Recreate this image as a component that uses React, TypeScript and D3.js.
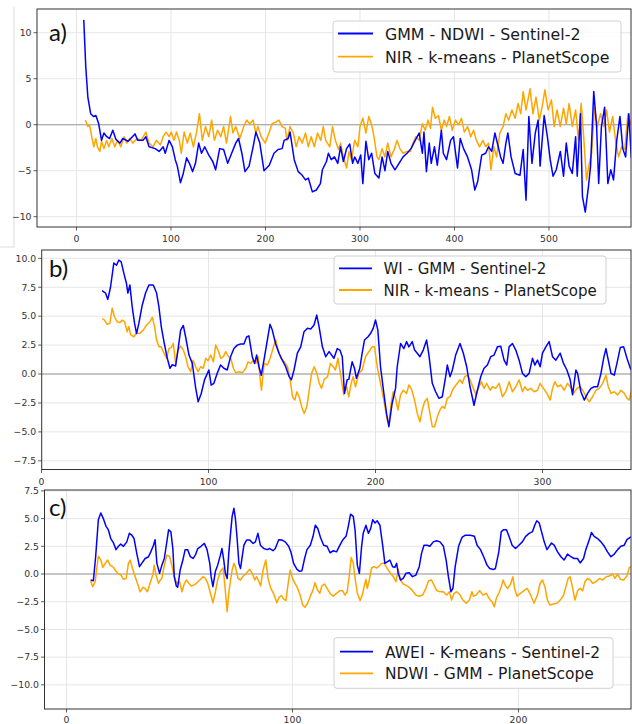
import React from "react";
import * as d3 from "d3";

// ---------- DATA ----------
const aBlue: [number, number][] = [
  [7.7, 11.4], [9.8, 6.3], [12, 3.0], [15, 1.2], [18, 0.9], [20.5, 1.0], [23.5, 0.1], [26.5, -1.7], [29, -0.9], [32, -1.3],
  [35, -1.5], [38.4, -0.6], [41.8, -1.6], [46, -2.0], [49, -1.5], [54.6, -1.8], [61.9, -1.0], [64.8, -1.7], [70.4, -1.7], [73.4, -1.3],
  [76.8, -2.4], [83.2, -2.6], [87.5, -2.9], [91.7, -2.4], [93.9, -3.1], [98, -1.7], [101.5, -2.4], [104.5, -3.8], [106.7, -4.5], [110, -6.3],
  [113, -5.3], [116.5, -3.6], [119.5, -4.2], [122.9, -5.1], [125.9, -4.2], [129.3, -2.0], [132.3, -3.1], [135.7, -2.4], [140, -3.3], [144.2, -4.0],
  [147.2, -4.9], [151.5, -2.6], [155.7, -2.7], [160, -4.2], [164.2, -3.1], [168.5, -2.0], [171.5, -1.5], [175, -3.1], [178.3, -5.1], [182.6, -4.5],
  [186.9, -2.4], [189.8, -0.8], [194, -2.0], [198.4, -5.0], [204, -4.4], [209, -3.1], [213.3, -2.7], [217.6, -2.6], [219.7, -1.7], [224, -1.5],
  [226, -0.8], [230.4, -3.8], [234.6, -5.1], [238.9, -5.5], [242.3, -6.0], [245.3, -5.8], [249.6, -7.3], [253.8, -7.1], [258.1, -6.4], [260.2, -4.9],
  [264.5, -4.0], [266.6, -3.1], [269.6, -3.8], [273, -3.5], [276.5, -4.2], [279.4, -2.4], [282.4, -4.0], [285.8, -2.6], [289.2, -2.1], [292.2, -4.2],
  [294.4, -3.5], [297.8, -4.2], [300.8, -3.3], [303, -6.4], [306.3, -1.8], [309.3, -3.8], [312.3, -3.1], [315.7, -5.3], [320, -5.8], [323.4, -3.5],
  [326.4, -5.0], [329.4, -2.9], [332.8, -4.2], [337, -4.9], [341.3, -4.2], [345.6, -3.5], [349.8, -3.1], [354, -2.6], [358.4, -1.7], [362.6, -0.9],
  [366, -3.1], [367.7, -0.8], [370.3, -5.1], [373.3, -2.0], [375.4, -4.2], [378.8, -2.4], [381.8, -4.4], [386.1, -0.6], [388.2, -3.1], [391.6, -3.8],
  [395.9, -1.7], [398.9, -1.3], [403.2, -4.7], [406.1, -1.5], [409.6, -2.6], [413.8, -3.5], [418.1, -4.9], [421.5, -7.1], [424.5, -6.2], [428.8, -3.3],
  [433, -3.1], [436, -2.4], [439.4, -2.9], [442.8, -0.9], [446.3, -2.4], [448.8, -3.5], [451.4, -4.2], [454.4, -2.0], [456.5, -0.9], [459.9, -3.5],
  [464.2, -5.3], [469.3, -5.5], [472.7, -2.7], [475.7, -8.2], [478.7, 0.9], [482, -4.2], [485.5, -0.9], [488.5, 0.5], [490.6, -4.5], [494.9, 1.0],
  [498.3, -1.3], [501.3, -3.8], [504.3, -5.6], [507.7, -4.9], [512, -2.9], [515.4, -5.6], [518.3, -2.0], [521.3, -4.5], [524.7, -5.3], [528.2, -1.3],
  [529.9, -5.6], [533.3, 1.2], [535.4, -7.8], [538.4, -9.5], [541.8, -6.7], [544, -4.5], [547.4, 3.6], [550.4, -0.2], [552.6, -6.4], [555.5, -0.2],
  [558.9, 1.9], [562.3, -6.4], [565.4, -4.9], [568.3, -6.0], [571.7, -1.7], [575.1, 0.9], [578.1, -2.6], [581.1, -3.5], [584.5, 1.2], [587.1, -3.6],
];

const aOrange: [number, number][] = [
  [9.4, 0.5], [12, -0.2], [13.7, 0], [16.2, -1.3], [18.3, -2.4], [20.5, -1.5], [22.2, -2.4], [24.7, -2.9], [26.5, -1.8], [29, -2.6],
  [32, -1.7], [34.1, -2.4], [37.5, -1.5], [40.5, -2.4], [43.5, -1.7], [46.9, -2.4], [50.3, -1.3], [53.3, -2.0], [56.3, -1.5], [59.7, -2.0],
  [64, -1.5], [68.3, -1.7], [73.4, -0.8], [76.8, -2.0], [81, -2.4], [84.5, -1.7], [88.7, -2.2], [91.7, -1.3], [94.7, -0.8], [98.1, -1.3],
  [100.3, -0.8], [103.2, -1.7], [105.8, -0.8], [108.8, -1.7], [110.9, -3.1], [113.9, -0.8], [117.3, -2.0], [120.3, -0.9], [123.7, -2.4], [127.1, -0.8],
  [130.1, 1.2], [133.1, -1.7], [136.5, -0.2], [140, -1.3], [143, 0.5], [145.9, -1.7], [149.3, -0.6], [152.7, -1.3], [155.7, -0.2], [158.7, -2.0],
  [163, 0.9], [165.5, -0.9], [168.5, -0.2], [172.8, -1.5], [177, -0.2], [180, 0.5], [183.4, 0.1], [186.9, 0.5], [189.8, -0.9], [192, -0.2],
  [195.4, -1.3], [199.7, -2.0], [204, -0.8], [207, 0.1], [211.2, 0.3], [214.2, 0.5], [217.6, -0.2], [221, -0.4], [222.7, -1.7], [226, -0.2],
  [229.5, -0.9], [232.5, -2.4], [235.5, -1.3], [238.9, -2.0], [242.3, -0.9], [245.3, -2.4], [248.3, -1.3], [251.7, -2.4], [255.1, -0.9], [258.5, -1.7],
  [261.1, -0.2], [263.7, -1.7], [268, -2.4], [270.9, -0.2], [273.9, -1.7], [277.3, -2.7], [279.4, -2.0], [282.4, -3.5], [285.8, -4.7], [288.4, -2.9],
  [291, -3.8], [294.4, -1.7], [297.8, -2.4], [300, -0.2], [303, 0.7], [306.3, -0.9], [309.3, 0.9], [312.3, 0], [314.8, -1.3], [318, -3.5],
  [320, -3.8], [323.4, -2.6], [326.4, -3.5], [329.4, -2.0], [332.8, -3.5], [336.2, -2.7], [339.2, -1.7], [342.2, -2.6], [345.6, -3.1], [349.8, -2.9],
  [353.2, -2.9], [356.2, -2.0], [359.2, -1.3], [362.6, -1.7], [366, 0.1], [369, -0.6], [372, 0.5], [374.6, -0.4], [376.7, 1.9], [379.7, 0.7],
  [383.1, 1.0], [386.1, -0.6], [389.1, 0.5], [391.6, -0.2], [394.6, 0.9], [397.6, -0.6], [401, 0.5], [404.4, 0], [407.4, 0.7], [410.4, -0.8],
  [413.8, -0.2], [417.2, -1.3], [420.2, -0.6], [423.2, -1.7], [426.6, -2.4], [430, -1.7], [433, -2.4], [436, -2.0], [438.6, -4.9], [441.6, -2.4],
  [444.5, -3.5], [448, -0.9], [451.4, -0.2], [454.4, 1.2], [457.3, 0.5], [460.8, 1.6], [464.2, 0.7], [467.2, 2.3], [470.1, 1.2], [472.7, 3.6],
  [475.7, 1.6], [480, 3.9], [483, 1.2], [486.3, 3.0], [489.8, 0.5], [492.7, 1.9], [495.7, 3.8], [499.1, 1.6], [502.6, 2.7], [505.5, -0.2],
  [508.5, 1.6], [512, -0.2], [515.4, 1.8], [518.3, 0.1], [521.3, 2.3], [524.7, -0.2], [528.2, 1.6], [531.2, -1.7], [534.1, 2.3], [536.7, -1.3],
  [539.7, -6.0], [542.7, -4.2], [545.2, -3.1], [548.2, 1.9], [551.2, -0.2], [554.6, 1.2], [558, -0.2], [561, 1.6], [564, -0.8], [567.4, 0.9],
  [570.8, -2.0], [573.8, -3.5], [576.8, -2.4], [580.2, -2.7], [583.6, 1.2], [586.6, 0.1],
];

const bBlue: [number, number][] = [
  [36.3, 7.2], [38.3, 7.0], [39.7, 6.45], [41.3, 7.5], [43.3, 9.6], [44.9, 9.4], [46.3, 9.85], [47.7, 9.7], [49.3, 8.7], [50.9, 7.8],
  [51.7, 7.0], [52.9, 7.7], [54.3, 5.8], [55.7, 4.4], [56.9, 3.5], [58.3, 4.4], [60.3, 5.95], [62.3, 7.0], [64.3, 7.7], [66.9, 7.7],
  [68.9, 7.0], [70.3, 5.8], [71.7, 4.1], [73.3, 2.8], [75.3, 1.36], [76.9, 0.5], [78.3, 0.8], [80.3, 0.7], [81.7, 2.07], [83.3, 3.8],
  [84.9, 4.2], [86.3, 3.2], [88.3, 1.64], [90.3, 0.92], [92.2, -1.1], [93.8, -2.4], [95.6, -1.7], [97.6, -0.5], [100.2, 0.35], [101.6, -0.95],
  [103.2, -0.8], [105.2, 0.06], [107.2, 0.78], [109.2, 0.5], [111.2, 0.35], [113.2, 1.5], [115.2, 2.2], [117.2, 2.5], [119.2, 2.6], [121.2, 2.6],
  [122.8, 3.2], [124.2, 3.3], [126.2, 1.5], [127.6, 0.92], [128.8, 1.64], [130.2, 0.63], [131.6, -0.1], [133.2, 1.2], [135.2, 2.9], [136.8, 4.3],
  [138.2, 3.8], [140.2, 2.6], [142.2, 1.8], [144.2, 1.2], [146.2, 0.63], [148.2, -0.2], [149.6, -0.5], [151.2, 0.35], [153.2, 1.8], [155.2, 2.35],
  [157.2, 3.66], [159.2, 3.95], [161.2, 3.9], [163.2, 4.24], [164.8, 5.1], [166.2, 4.1], [168.2, 2.35], [170.2, 1.5], [172.2, 1.94], [175.1, 1.36],
  [177.1, 2.2], [178.7, 2.07], [180.1, 1.5], [181.4, -1.67], [183, -0.5], [184, -0.46], [186, 1.06], [187.4, 0.5], [188.6, -0.37], [190.6, 0.5],
  [192, 1.8], [193.4, 2.94], [195.4, 3.2], [197, 3.5], [198.6, 3.95], [200, 4.67], [201.4, 3.8], [203, 0.63], [205, -1.67], [206.6, -3.4],
  [208, -4.55], [210, -2.5], [212, -1.24], [213, 0.63], [215, 2.64], [217, 2.2], [218.6, 2.8], [220, 2.35], [222, 2.8], [223.4, 2.07],
  [225, 1.8], [226.6, 1.5], [228.6, 2.07], [230.6, 2.94], [232, 1.64], [234, -0.8], [236, -1.53], [238, -2.1], [240, -1.96], [242, -0.23],
  [243, 0.78], [244.6, -0.23], [246, 0.35], [248, 1.64], [250.6, 2.64], [252.6, 1.8], [254.6, 0.63], [256.6, -1.1], [259, -2.7], [261, -1.4],
  [263, -0.23], [265, 0.5], [267, 0.78], [269, 1.5], [271, 1.64], [273, 2.35], [275, 2.4], [277, 1.2], [278.6, 0.78], [280, 2.35],
  [282, 2.64], [284, 2.07], [286, 1.2], [288, 0.06], [290, -0.23], [292, 0.06], [294, 1.36], [295.4, 0.78], [297, 1.2], [298.6, 0.63],
  [300, 1.8], [302, 2.35], [304, 2.8], [306, 1.5], [308, 1.2], [310.6, 1.8], [312.6, 0.92], [314.6, 0.35], [316.6, -0.5], [318, -1.8],
  [320, 0.35], [321, 0.06], [323, -1.53], [325, -2.25], [327, -1.67], [329, -1.24], [331, -1.1], [333, -1.1], [335, 0.06], [336.6, 1.36],
  [338, 2.2], [339.4, 1.2], [341, 0.06], [343, -0.1], [345, 1.2], [346.6, 2.3], [348.6, 2.35], [350.6, 1.36], [352.6, 0.5], [354, 0.2],
];

const bOrange: [number, number][] = [
  [36.3, 4.8], [37.7, 4.66], [39.3, 4.3], [40.9, 4.38], [42.3, 5.68], [43.7, 4.95], [45.3, 4.52], [46.9, 4.44], [48.3, 4.66], [49.7, 4.52],
  [51.3, 3.66], [52.3, 4.1], [53.3, 3.4], [55.3, 3.22], [56.9, 3.57], [58.9, 3.5], [60.9, 3.8], [62.9, 4.24], [64.9, 4.52], [66.3, 4.9],
  [67.7, 4.1], [68.9, 2.94], [70.3, 2.35], [71.7, 2.35], [73.3, 1.8], [74.9, 1.36], [76.3, 2.2], [77.7, 2.3], [78.9, 2.64], [80.3, 0.92],
  [81.7, 2.07], [83.3, 2.4], [84.9, 2.07], [86.3, 1.5], [87.7, 0.63], [89.3, 0.2], [90.7, 1.2], [92.3, 0.63], [93.7, 0.2], [95.3, 0.63],
  [96.9, 0.5], [98.3, 1.36], [99.7, 1.15], [101.3, 1.64], [102.9, 1.06], [104.3, 2.5], [105.7, 2.07], [107.3, 1.36], [108.9, 1.5], [110.3, 1.94],
  [111.7, 1.56], [113.3, 1.36], [114.9, 0.5], [116.3, 0.12], [118.3, 0.2], [120.3, 0.12], [122.3, 0.5], [123.7, 1.06], [125.3, 0.92], [126.9, 1.2],
  [128.3, 0.92], [129.7, 1.5], [130.9, -0.4], [131.7, -1.4], [133.3, 0.92], [135.3, 0.78], [136.9, 1.36], [138.9, 2.35], [140.3, 2.94], [141.7, 2.07],
  [143.3, 1.36], [145.3, 1.06], [147.3, 0.63], [148.9, -0.5], [150.3, -1.96], [151.7, -2.25], [152.9, -1.53], [154.3, -1.96], [155.7, -2.8], [157.3, -3.4],
  [158.9, -2.8], [160.3, -1.4], [161.7, 0.06], [163.3, 0.63], [164.9, 0.06], [166.3, -0.8], [167.7, -1.24], [169.3, -0.46], [171.3, -0.23], [173, 0.92],
  [174.7, 0.63], [176, 0.35], [177.5, 1.36], [179, 0.06], [181, -1.8], [182.7, -1.1], [184, -1.96], [185.4, -0.8], [186.6, -0.23], [188, -1.1],
  [190, 0.06], [192, 0.35], [194, 1.5], [196, 1.93], [198, 2.35], [199.4, 2.35], [201, 0.63], [203, -0.8], [205, -2.25], [207, -3.98],
  [208, -4.27], [209.4, -2.5], [210.6, -1.53], [212, -2.1], [213.4, -3.1], [215, -1.8], [216.6, -1.4], [218.6, -1.67], [220, -0.95], [221.4, -1.24],
  [223.4, -2.25], [225, -3.4], [226.6, -4.13], [228, -3.1], [229.4, -2.4], [231, -2.1], [232.6, -3.4], [234, -4.55], [235.4, -4.55], [237, -3.7],
  [238.6, -3.1], [240, -2.8], [241.4, -2.96], [243, -2.1], [244.6, -1.96], [246, -1.4], [247.4, -1.1], [249, -0.8], [250.6, -0.5], [252, -0.8],
  [253.4, -0.23], [255, -0.1], [256.6, -0.5], [258.6, -1.24], [260.2, -1.8], [262, -1.1], [263.4, -0.66], [265, -1.24], [266.6, -0.8], [268.6, -1.4],
  [270, -1.1], [272, -1.24], [274, -0.8], [276, -1.96], [278, -1.53], [280, -0.66], [282, -1.53], [284, -1.1], [286, -0.5], [288, -1.53],
  [289.4, -1.1], [291, -1.4], [293, -1.24], [295, -1.53], [297, -1.4], [298.6, -0.8], [300.6, -1.24], [302.6, -1.67], [304.6, -2.25], [306, -1.24],
  [307.4, -0.66], [309, -1.1], [311, -0.95], [313, -1.4], [315, -0.8], [316.6, -1.1], [318.6, -1.67], [320.6, -1.24], [322.6, -1.1], [324.6, -1.53],
  [326.6, -2.1], [328, -2.4], [330, -1.96], [332, -1.4], [334, -1.24], [336, -0.8], [338, -0.1], [339.4, -1.1], [341, -1.67], [343, -1.53],
  [345, -1.8], [347, -1.4], [349, -1.67], [350.6, -2.1], [352, -2.25], [354, -0.95],
];

const cBlue: [number, number][] = [
  [10.7, -0.54], [11.9, -0.6], [12.9, 1.56], [14.1, 4.9], [15.2, 5.5], [16.3, 5.0], [17.5, 4.3], [18.5, 4.0], [19.6, 3.2], [20.8, 2.8],
  [21.9, 2.2], [23, 2.5], [24, 2.7], [25.2, 2.5], [26.7, 2.9], [27.8, 3.67], [28.9, 3.5], [29.9, 3.2], [31.1, 1.86], [32.3, 0.66],
  [33.3, 0.96], [34.8, 1.4], [36.3, 1.56], [37.3, 2.0], [38.5, 2.6], [39.2, 3.1], [40, 0.96], [41.2, 0.06], [42.2, 0.8], [43.3, 1.4],
  [44.4, 2.9], [45.2, 4.0], [46.2, 3.8], [47.1, 2.2], [47.7, -0.24], [48.6, -1.08], [49.2, -1.2], [50.3, 0.36], [51.5, 1.26], [52.5, 2.2],
  [53.6, 2.2], [54.8, 1.56], [56, 1.4], [57, 1.7], [58.1, 2.3], [59.5, 2.5], [61, 2.76], [62.2, 2.2], [63.4, 0.96], [64, -0.24],
  [64.8, -1.14], [65.9, 0.24], [66.9, 0.8], [68.1, 1.7], [68.8, 2.3], [69.6, 1.26], [70.3, 0.06], [71.1, -0.4], [71.8, 1.86], [72.6, 3.67],
  [73.3, 5.2], [74.1, 5.93], [74.8, 4.9], [75.5, 3.2], [76.3, 0.96], [77, 0.5], [78.5, 2.6], [79.7, 3.06], [81.1, 3.06], [82.6, 2.76],
  [83.6, 2.9], [84.7, 3.67], [85.8, 2.6], [87.3, 2.3], [88.8, 2.2], [89.9, 2.3], [91.4, 2.1], [92.4, 2.3], [93.9, 3.1], [95.4, 3.06],
  [96.8, 2.9], [98.3, 2.5], [99.3, 2.0], [100.5, 0.96], [102, 0.42], [103.2, 0.24], [104.2, 0.3], [105.2, 1.26], [106.4, 2.2], [107.9, 2.6],
  [109.1, 3.4], [110.1, 4.4], [111.2, 4.1], [112.4, 3.3], [113.8, 2.6], [115.3, 2.5], [116.6, 1.92], [118.1, 2.1], [119.5, 2.0], [120.7, 2.5],
  [122.2, 3.06], [123.7, 3.4], [124.7, 4.3], [125.7, 5.4], [126.9, 5.2], [127.7, 3.97], [128.7, 0.8], [129.6, 0.06], [130.6, 2.5], [131.3, 3.67],
  [132.5, 4.4], [133.6, 3.67], [134.6, 4.1], [135.5, 4.9], [136.5, 4.6], [137.5, 4.8], [138.7, 4.4], [139.9, 2.6], [140.9, 0.96], [141.9, 1.1],
  [143.1, 1.26], [144.3, 0.66], [145.3, 0.6], [146.1, 0.96], [146.8, 0.06], [147.8, -0.54], [149, -0.4], [150.2, 0.06], [151.7, 0.12], [153.1, -0.24],
  [154.6, -0.1], [156.1, 0.66], [157.1, 1.86], [158.2, 2.6], [159.6, 2.6], [160.8, 2.5], [162.3, 2.9], [163.8, 3.0], [165.3, 2.9], [166.8, 2.5],
  [168, 1.26], [169, -0.24], [170.1, -1.6], [171, -1.3], [172, 0.66], [173.5, 2.5], [175, 3.3], [176.5, 3.5], [178.7, 3.5], [180.5, 3.4],
  [181.7, 2.6], [183.2, 2.2], [184.6, 1.56], [186.1, 0.8], [187.3, 0.5], [188.8, 0.4], [189.8, 0.5], [191.3, 2.0], [192.4, 3.82], [193.5, 4.0],
  [194.7, 4.0], [195.8, 3.4], [197.2, 2.6], [198.7, 2.3], [200.2, 2.6], [201.7, 2.9], [203.2, 3.4], [204.7, 3.67], [206.2, 3.82], [207.2, 4.4],
  [208.1, 4.8], [209.2, 4.6], [210.2, 3.82], [211.4, 2.9], [212.6, 2.2], [213.6, 2.5], [214.6, 2.8], [215.8, 2.6], [217.3, 2.0], [218.8, 1.56],
  [220.2, 1.26], [221.7, 1.8], [223.2, 1.56], [224.6, 1.4], [226.1, 1.4], [227.3, 1.0], [228.8, 1.4], [229.8, 2.2], [231.3, 3.06], [232.3, 3.75],
  [233.5, 3.4], [235, 3.2], [236.5, 2.9], [238, 2.5], [239.4, 2.0], [240.9, 1.56], [242.4, 1.8], [243.9, 2.2], [245.3, 2.5], [246.8, 2.6],
  [248, 3.1], [249.4, 3.3], [250.5, 3.4],
];

const cOrange: [number, number][] = [
  [10.7, -0.6], [11.6, -1.14], [12.7, -0.7], [13.4, 0.5], [14.1, 1.6], [15.2, 1.26], [16.1, 0.6], [17.1, 0.96], [18.2, 1.26], [19.3, 0.8],
  [20.8, 0.6], [21.9, 0.24], [23, 0], [24, -0.06], [25.2, -0.48], [26.4, -0.4], [27.4, 0.96], [28.2, 1.26], [29.3, 0.42], [30.4, -0.24],
  [31.4, -0.84], [32.6, -1.6], [33.8, -1.2], [34.8, -1.3], [35.8, -1.6], [37, -0.84], [38.2, -0.06], [38.8, 0.8], [39.6, -0.06], [40.7, -0.84],
  [41.5, -0.54], [42.2, -0.4], [43.3, 0.8], [44.4, 1.7], [45.6, 1.6], [46.6, 0.8], [47.7, -0.24], [48.9, -0.84], [50.1, -0.7], [51.1, -1.6],
  [52.2, -0.84], [53.1, -0.54], [54.1, -0.84], [55.2, -1.08], [56.3, -1.0], [57.5, -0.84], [59, -0.54], [60.4, -0.24], [61.5, -0.4], [62.5, -0.84],
  [63.7, -1.74], [64.8, -2.6], [65.9, -1.6], [66.9, -0.54], [68.1, 0.24], [69.3, 0.54], [70, -0.84], [71.1, -3.4], [71.8, -1.74], [72.6, -0.54],
  [73.3, 0.36], [74.1, 0.96], [74.8, 0.6], [75.9, -0.4], [77, -0.54], [78.2, -0.18], [79.3, 0], [80.3, 0.24], [81.1, 0.42], [82.2, 0.06],
  [83.3, -0.54], [84.1, -0.24], [85.2, -0.7], [85.9, -1.08], [87, 0.36], [88.2, 1.26], [89.2, -0.4], [90.4, -1.3], [91.6, -1.74], [93.1, -2.6],
  [94.1, -2.1], [95.1, -1.95], [96, -2.25], [97.1, -2.4], [98.1, -0.84], [99, 0.36], [100, -0.4], [101.1, -0.84], [102.3, -1.3], [103.4, -1.9],
  [104.5, -2.8], [105.5, -3.0], [106.7, -2.64], [107.9, -2.0], [109, -1.5], [110, -0.78], [111.2, -1.5], [112.1, -1.74], [113, -1.08], [114.2, -0.9],
  [115.3, -1.3], [116.8, -1.8], [118.1, -2.0], [119.5, -1.74], [121, -1.5], [122.2, -1.5], [123.2, -1.9], [124.2, -1.6], [125.1, -0.24], [126, 1.5],
  [126.9, 1.0], [127.8, -0.54], [128.7, -1.74], [129.9, -2.4], [130.9, -1.9], [131.7, -1.14], [132.5, -0.48], [133.1, -1.3], [134, -0.54], [135, 0.54],
  [136.1, 0.66], [137.2, 0.54], [138.4, 0.72], [139.4, 0.96], [140.5, 1.0], [141.4, 0.66], [142.4, 0.36], [143.4, 0.06], [144.6, -0.24], [145.8, -0.7],
  [146.8, 0.42], [147.8, -0.54], [149, -0.9], [150.2, -1.0], [151.7, -1.2], [153.1, -1.5], [154.6, -1.9], [156.1, -2.0], [157.6, -1.9], [159, -1.3],
  [160.2, -0.6], [161.5, -0.54], [162.6, -1.0], [163.8, -1.5], [165.3, -1.6], [166.8, -1.6], [168.2, -1.9], [169.4, -1.6], [170.4, -2.35], [171.5, -1.74],
  [172.7, -1.6], [174.2, -1.9], [175.4, -2.35], [176.9, -2.64], [178.3, -2.35], [179.4, -1.6], [180.1, -2.0], [181.3, -1.9], [182.8, -1.5], [184.3, -1.9],
  [185.8, -1.74], [187.3, -2.3], [188.3, -2.5], [189.3, -2.96], [190.2, -2.2], [191.3, -1.74], [192.4, -1.14], [193.2, -0.54], [194.3, -1.08], [195.3, -1.3],
  [196.5, -0.9], [197.5, -0.24], [198.3, -1.3], [199.4, -2.0], [200.9, -1.74], [202.4, -1.5], [203.9, -1.3], [205.4, -1.9], [206.9, -2.64], [208.4, -1.9],
  [209.5, -0.9], [210.6, -0.54], [211.7, -1.14], [212.8, -2.35], [214, -2.8], [215.5, -2.7], [217, -2.64], [218.5, -2.35], [220, -1.9], [221, -1.14],
  [222, -0.4], [222.9, -0.24], [224, -1.3], [225, -2.35], [226.2, -1.5], [227.3, -1.3], [228.4, -1.5], [229.4, -0.7], [230.6, -0.4], [231.8, -0.54],
  [232.8, -0.84], [234.3, -0.7], [235.8, -0.4], [237.3, -0.54], [238.8, -0.24], [240.2, -0.18], [241.7, 0], [242.7, -0.4], [243.9, 0], [245.1, -0.48],
  [246.5, -0.54], [248, -0.18], [249.1, 0.6], [250.5, 0.72],
];

const aXTicks = [0, 100, 200, 300, 400, 500];
const aYTicks = [-10, -5, 0, 5, 10];
const bXTicks = [0, 100, 200, 300];
const bYTicks = [-7.5, -5, -2.5, 0, 2.5, 5, 7.5, 10];
const cXTicks = [0, 100, 200];
const cYTicks = [-10, -7.5, -5, -2.5, 0, 2.5, 5, 7.5];

const aLegend = ["GMM - NDWI - Sentinel-2", "NIR - k-means - PlanetScope"];
const bLegend = ["WI - GMM - Sentinel-2", "NIR - k-means - PlanetScope"];
const cLegend = ["AWEI - K-means - Sentinel-2", "NDWI - GMM - PlanetScope"];
const panelLabels = ["a)", "b)", "c)"];

// ---------- LAYOUT ----------
type PanelCfg = {
  id: string;
  label: string;
  left: number; right: number; top: number; bottom: number;
  xDomain: [number, number]; yDomain: [number, number];
  xTicks: number[]; yTicks: number[]; yDecimals: number;
  xLabelBaseline: number;
  blue: [number, number][]; orange: [number, number][];
  legend: string[];
  legBox: { x: number; y: number; w: number; h: number };
  legLineX: [number, number]; legRowY: [number, number]; legTextX: number; legFont: number;
  labelPos: { x: number; y: number };
};

const panels: PanelCfg[] = [
  {
    id: "a", label: panelLabels[0],
    left: 37, right: 631, top: 9, bottom: 227,
    xDomain: [-41.8, 586.8], yDomain: [-11.12, 12.58],
    xTicks: aXTicks, yTicks: aYTicks, yDecimals: 0, xLabelBaseline: 242,
    blue: aBlue, orange: aOrange, legend: aLegend,
    legBox: { x: 333, y: 21, w: 288, h: 51 }, legLineX: [338, 373], legRowY: [33.5, 56.7], legTextX: 385, legFont: 15.8,
    labelPos: { x: 49, y: 41 },
  },
  {
    id: "b", label: panelLabels[1],
    left: 41.7, right: 631, top: 250, bottom: 469.5,
    xDomain: [0.1, 353], yDomain: [-8.25, 10.72],
    xTicks: bXTicks, yTicks: bYTicks, yDecimals: 1, xLabelBaseline: 485,
    blue: bBlue, orange: bOrange, legend: bLegend,
    legBox: { x: 334, y: 256, w: 272, h: 48 }, legLineX: [339, 372], legRowY: [268.3, 290], legTextX: 383.5, legFont: 15,
    labelPos: { x: 49, y: 277 },
  },
  {
    id: "c", label: panelLabels[2],
    left: 44.5, right: 631, top: 490, bottom: 709,
    xDomain: [-9.73, 249.8], yDomain: [-12.18, 7.58],
    xTicks: cXTicks, yTicks: cYTicks, yDecimals: 1, xLabelBaseline: 722.5,
    blue: cBlue, orange: cOrange, legend: cLegend,
    legBox: { x: 334, y: 637.7, w: 279, h: 50.6 }, legLineX: [340, 373], legRowY: [651.7, 673.3], legTextX: 385, legFont: 15.5,
    labelPos: { x: 49, y: 516 },
  },
];

const BLUE = "#0000ff";
const ORANGE = "#ffa500";
const TICK_FONT = "'DejaVu Sans', sans-serif";

function fmt(v: number, dec: number) {
  const s = Math.abs(v).toFixed(dec);
  return v < 0 ? "\u2212" + s : s;
}

function Panel({ p }: { p: PanelCfg }) {
  const x = d3.scaleLinear().domain(p.xDomain).range([p.left, p.right]);
  const y = d3.scaleLinear().domain(p.yDomain).range([p.bottom, p.top]);
  const line = d3.line<[number, number]>().x((d) => x(d[0])).y((d) => y(d[1]));
  const clipId = `clip-${p.id}`;
  return (
    <g>
      <defs>
        <clipPath id={clipId}>
          <rect x={p.left} y={p.top} width={p.right - p.left} height={p.bottom - p.top} />
        </clipPath>
      </defs>
      <rect x={p.left} y={p.top} width={p.right - p.left} height={p.bottom - p.top} fill="#fff" />
      <g clipPath={`url(#${clipId})`}>
        {p.xTicks.map((t) => (
          <line key={`gx${t}`} x1={x(t)} x2={x(t)} y1={p.top} y2={p.bottom} stroke="#e3e3e3" strokeWidth={0.9} />
        ))}
        {p.yTicks.map((t) => (
          <line key={`gy${t}`} x1={p.left} x2={p.right} y1={y(t)} y2={y(t)} stroke="#e3e3e3" strokeWidth={0.9} />
        ))}
        <line x1={p.left} x2={p.right} y1={y(0)} y2={y(0)} stroke="#9a9a9a" strokeWidth={1.1} />
        <path d={line(p.orange) || ""} fill="none" stroke={ORANGE} strokeWidth={1.5} strokeLinejoin="round" />
        <path d={line(p.blue) || ""} fill="none" stroke={BLUE} strokeWidth={1.5} strokeLinejoin="round" />
      </g>
      <rect x={p.left} y={p.top} width={p.right - p.left} height={p.bottom - p.top} fill="none" stroke="#333" strokeWidth={1} />
      {p.xTicks.map((t) => (
        <g key={`tx${t}`}>
          <line x1={x(t)} x2={x(t)} y1={p.bottom} y2={p.bottom + 3.5} stroke="#333" strokeWidth={0.8} />
          <text x={x(t)} y={p.xLabelBaseline} textAnchor="middle" fontSize={9.3} fontFamily={TICK_FONT} fill="#333">
            {fmt(t, 0)}
          </text>
        </g>
      ))}
      {p.yTicks.map((t) => (
        <g key={`ty${t}`}>
          <line x1={p.left - 3.5} x2={p.left} y1={y(t)} y2={y(t)} stroke="#333" strokeWidth={0.8} />
          <text x={p.left - 5.5} y={y(t) + 3.3} textAnchor="end" fontSize={9.3} fontFamily={TICK_FONT} fill="#333">
            {fmt(t, p.yDecimals)}
          </text>
        </g>
      ))}
      <text x={p.labelPos.x} y={p.labelPos.y} fontSize={24} fontFamily="Lato, 'Open Sans', sans-serif" fill="#111">
        {p.label}
      </text>
      <rect x={p.legBox.x} y={p.legBox.y} width={p.legBox.w} height={p.legBox.h} rx={3} fill="#fff" fillOpacity={0.85} stroke="#d0d0d0" strokeWidth={1} />
      {p.legend.map((name, i) => (
        <g key={name}>
          <line x1={p.legLineX[0]} x2={p.legLineX[1]} y1={p.legRowY[i]} y2={p.legRowY[i]} stroke={i === 0 ? BLUE : ORANGE} strokeWidth={1.8} />
          <text x={p.legTextX} y={p.legRowY[i] + 6} fontSize={p.legFont} fontFamily={TICK_FONT} fill="#1a1a1a">
            {name}
          </text>
        </g>
      ))}
    </g>
  );
}

export default function App() {
  return (
    <svg width={632} height={724} style={{ position: "absolute", left: 0, top: 0, background: "#fff" }}>
      <rect x={0} y={0} width={632} height={724} fill="#fff" />
      <line x1={14} x2={14} y1={7} y2={247} stroke="#dcdcdc" strokeWidth={1} />
      <line x1={0} x2={14} y1={247} y2={247} stroke="#dcdcdc" strokeWidth={1} />
      {panels.map((p) => (
        <Panel key={p.id} p={p} />
      ))}
    </svg>
  );
}
